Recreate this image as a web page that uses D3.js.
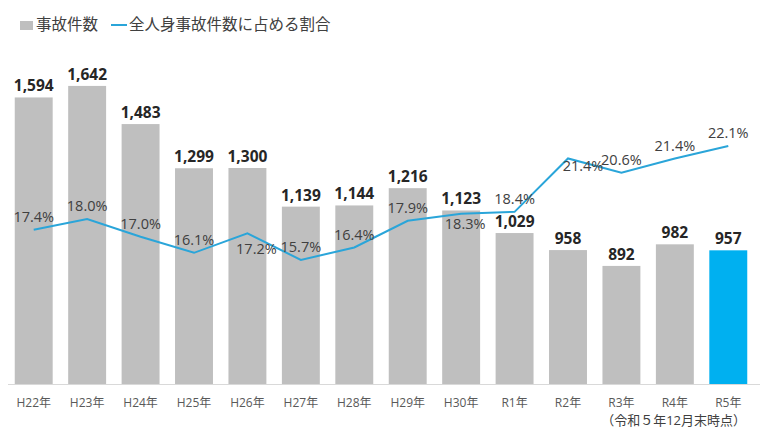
<!DOCTYPE html>
<html>
<head>
<meta charset="utf-8">
<script src="https://cdn.jsdelivr.net/npm/d3@7"></script>
<style>
  body { margin: 0; background: #fff; }
  svg text { font-family: "Open Sans", "Noto Sans CJK JP", sans-serif; }
</style>
</head>
<body>
<div id="chart"></div>
<script>
const years = ["H22年", "H23年", "H24年", "H25年", "H26年", "H27年", "H28年", "H29年", "H30年", "R1年", "R2年", "R3年", "R4年", "R5年"];
const accidents = [1594, 1642, 1483, 1299, 1300, 1139, 1144, 1216, 1123, 1029, 958, 892, 982, 957];
const shares = [17.4, 18.0, 17.0, 16.1, 17.2, 15.7, 16.4, 17.9, 18.3, 18.4, 21.4, 20.6, 21.4, 22.1];
const barLegend = "事故件数";
const lineLegend = "全人身事故件数に占める割合";
const footnote = "（令和５年12月末時点）";

// labels that sit under the line instead of over it, with a small sideways nudge
const belowLabels = { 4: [9, 16], 8: [4, 10], 10: [15, 7] };

const width = 760, height = 428;
const baseY = 384;

const svg = d3.select("#chart").append("svg")
    .attr("width", width)
    .attr("height", height);

const x = d3.scaleBand()
    .domain(years)
    .range([7, 755])
    .paddingInner(0.29)
    .paddingOuter(0.145);

const y = d3.scaleLinear()
    .domain([400, 1800])
    .range([baseY, 48]);

const yPct = d3.scaleLinear()
    .domain([10, 25])
    .range([361.4, 94.4]);

// bars
svg.selectAll(".bar")
    .data(years)
    .enter().append("rect")
    .attr("class", "bar")
    .attr("x", d => x(d))
    .attr("y", (d, i) => y(accidents[i]))
    .attr("width", x.bandwidth())
    .attr("height", (d, i) => baseY - y(accidents[i]))
    .attr("fill", (d, i) => i === years.length - 1 ? "#00b0f0" : "#bfbfbf");

// axis line
svg.append("line")
    .attr("x1", 8).attr("x2", 760)
    .attr("y1", baseY + 0.5).attr("y2", baseY + 0.5)
    .attr("stroke", "#d9d9d9")
    .attr("stroke-width", 1);

// x labels
svg.selectAll(".xlab")
    .data(years)
    .enter().append("text")
    .attr("class", "xlab")
    .attr("x", d => x(d) + x.bandwidth() / 2)
    .attr("y", 407)
    .attr("text-anchor", "middle")
    .attr("font-size", 12)
    .attr("fill", "#595959")
    .text(d => d);

svg.append("text")
    .attr("x", 746)
    .attr("y", 425)
    .attr("text-anchor", "end")
    .attr("font-size", 13)
    .attr("fill", "#404040")
    .text(footnote);

// bar value labels
svg.selectAll(".val")
    .data(years)
    .enter().append("text")
    .attr("class", "val")
    .attr("x", d => x(d) + x.bandwidth() / 2)
    .attr("y", (d, i) => y(accidents[i]) - 6)
    .attr("text-anchor", "middle")
    .attr("font-size", 15.5)
    .attr("font-weight", "bold")
    .attr("fill", "#262626")
    .text((d, i) => d3.format(",")(accidents[i]));

// share line
const line = d3.line()
    .x((d, i) => x(years[i]) + x.bandwidth() / 2)
    .y(d => yPct(d));

svg.append("path")
    .datum(shares)
    .attr("fill", "none")
    .attr("stroke", "#2aa5d9")
    .attr("stroke-width", 2)
    .attr("d", line);

svg.selectAll(".pct")
    .data(shares)
    .enter().append("text")
    .attr("class", "pct")
    .attr("x", (d, i) => x(years[i]) + x.bandwidth() / 2 + (belowLabels[i] ? belowLabels[i][0] : 0))
    .attr("y", (d, i) => yPct(d) + (belowLabels[i] ? belowLabels[i][1] : -13))
    .attr("dy", "0.35em")
    .attr("text-anchor", "middle")
    .attr("font-size", 14.5)
    .attr("fill", "#404040")
    .text(d => d.toFixed(1) + "%");

// legend
const legend = svg.append("g");
legend.append("rect")
    .attr("x", 20).attr("y", 21)
    .attr("width", 13).attr("height", 9)
    .attr("fill", "#bfbfbf");
legend.append("text")
    .attr("x", 36).attr("y", 25)
    .attr("dy", "0.35em")
    .attr("font-size", 15.5)
    .attr("fill", "#404040")
    .text(barLegend);
legend.append("line")
    .attr("x1", 111).attr("x2", 127)
    .attr("y1", 25).attr("y2", 25)
    .attr("stroke", "#2aa5d9")
    .attr("stroke-width", 2);
legend.append("text")
    .attr("x", 129).attr("y", 25)
    .attr("dy", "0.35em")
    .attr("font-size", 15.5)
    .attr("fill", "#404040")
    .text(lineLegend);
</script>
</body>
</html>
